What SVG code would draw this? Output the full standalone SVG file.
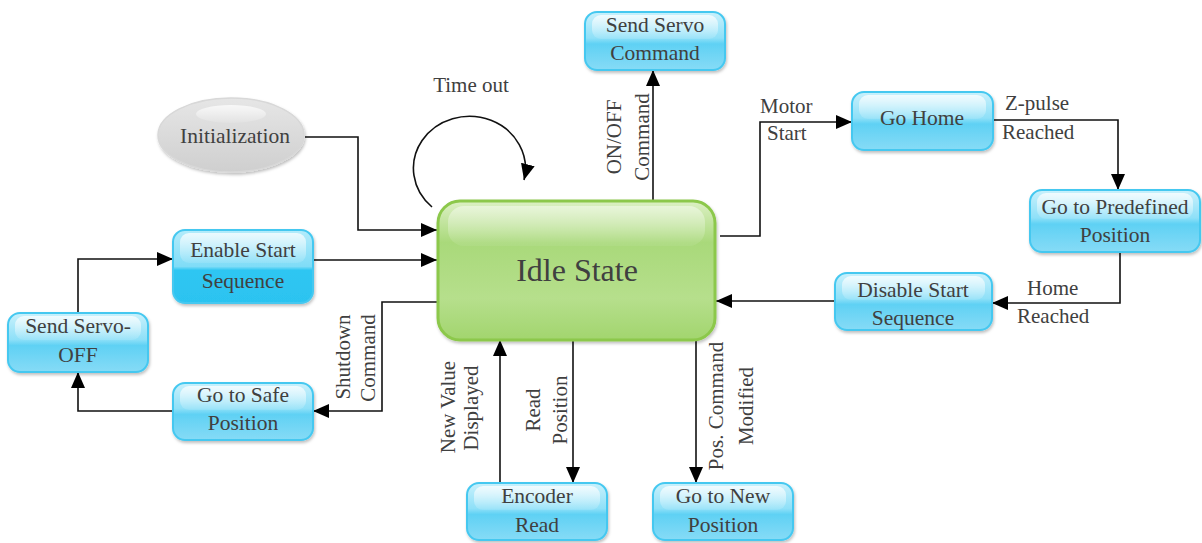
<svg xmlns="http://www.w3.org/2000/svg" width="1202" height="543" viewBox="0 0 1202 543">
<defs>
<linearGradient id="gBlue" x1="0" y1="0" x2="0" y2="1">
<stop offset="0" stop-color="#c9f1fc"/>
<stop offset="0.45" stop-color="#8ee0f8"/>
<stop offset="0.55" stop-color="#5fd1f4"/>
<stop offset="1" stop-color="#86dbf6"/>
</linearGradient>
<linearGradient id="gBlue2" x1="0" y1="0" x2="0" y2="1">
<stop offset="0" stop-color="#b4ecfb"/>
<stop offset="0.5" stop-color="#7fdcf7"/>
<stop offset="0.55" stop-color="#2fc6f2"/>
<stop offset="1" stop-color="#2cc3f0"/>
</linearGradient>
<linearGradient id="gGreen" x1="0" y1="0" x2="0" y2="1">
<stop offset="0" stop-color="#dcf0c4"/>
<stop offset="0.3" stop-color="#a9d97a"/>
<stop offset="0.7" stop-color="#b6df8c"/>
<stop offset="1" stop-color="#a2d56e"/>
</linearGradient>
<linearGradient id="gGray" x1="0" y1="0" x2="0" y2="1">
<stop offset="0" stop-color="#e6e6e6"/>
<stop offset="1" stop-color="#cfcfcf"/>
</linearGradient>
<linearGradient id="gHi" x1="0" y1="0" x2="0" y2="1">
<stop offset="0" stop-color="#ffffff" stop-opacity="0.75"/>
<stop offset="1" stop-color="#ffffff" stop-opacity="0.1"/>
</linearGradient>
<filter id="sh" x="-10%" y="-10%" width="130%" height="140%">
<feDropShadow dx="1" dy="2" stdDeviation="1.5" flood-color="#000" flood-opacity="0.25"/>
</filter>
<marker id="ah" markerWidth="16" markerHeight="14" refX="16" refY="7" orient="auto" markerUnits="userSpaceOnUse">
<path d="M0,0 L16,7 L0,14 z" fill="#000"/>
</marker>
</defs>
<style>
.blue{fill:url(#gBlue);stroke:#45c8f0;stroke-width:2;filter:url(#sh)}
.blue2{fill:url(#gBlue2);stroke:#45c8f0;stroke-width:2;filter:url(#sh)}
.hi{fill:url(#gHi);stroke:none}
.t{font-family:"Liberation Serif","Times New Roman",serif;font-size:21.5px;fill:#404040;text-anchor:middle}
.l{font-family:"Liberation Serif","Times New Roman",serif;font-size:21px;fill:#404040}
.c{fill:none;stroke:#111;stroke-width:1.6;marker-end:url(#ah)}
</style>
<rect width="1202" height="543" fill="#fff"/>

<g id="connectors">
<path class="c" d="M305,137 H358 V230 H437"/>
<path class="c" d="M313,260 H437"/>
<path class="c" d="M437,302 H382 V411 H313"/>
<path class="c" d="M173,411 H78 V372"/>
<path class="c" d="M78,313 V259 H173"/>
<path class="c" d="M653,200 V70"/>
<path class="c" d="M720,236 H760 V122 H852"/>
<path class="c" d="M993,120 H1118 V190"/>
<path class="c" d="M1120,252 V303 H992"/>
<path class="c" d="M835,301 H716"/>
<path class="c" d="M500,483 V340"/>
<path class="c" d="M573,340 V483"/>
<path class="c" d="M696,340 V483"/>
<path class="c" d="M432,207 A56,52 0 1 1 524,180"/>
</g>

<g id="labels">
<text class="l" x="471" y="92" text-anchor="middle">Time out</text>
<text class="l" x="621" y="137" text-anchor="middle" transform="rotate(-90 621 137)">ON/OFF</text>
<text class="l" x="649" y="137" text-anchor="middle" transform="rotate(-90 649 137)">Command</text>
<text class="l" x="760" y="113">Motor</text>
<text class="l" x="767" y="140">Start</text>
<text class="l" x="1005" y="110">Z-pulse</text>
<text class="l" x="1002" y="139">Reached</text>
<text class="l" x="1027" y="295">Home</text>
<text class="l" x="1017" y="323">Reached</text>
<text class="l" x="350" y="357" text-anchor="middle" transform="rotate(-90 350 357)">Shutdown</text>
<text class="l" x="375" y="358" text-anchor="middle" transform="rotate(-90 375 358)">Command</text>
<text class="l" x="455" y="407" text-anchor="middle" transform="rotate(-90 455 407)">New Value</text>
<text class="l" x="478" y="408" text-anchor="middle" transform="rotate(-90 478 408)">Displayed</text>
<text class="l" x="540" y="410" text-anchor="middle" transform="rotate(-90 540 410)">Read</text>
<text class="l" x="567" y="410" text-anchor="middle" transform="rotate(-90 567 410)">Position</text>
<text class="l" x="723" y="406" text-anchor="middle" transform="rotate(-90 723 406)">Pos. Command</text>
<text class="l" x="753" y="406" text-anchor="middle" transform="rotate(-90 753 406)">Modified</text>
</g>

<g id="idle">
<rect x="438" y="201" width="277" height="139" rx="22" fill="url(#gGreen)" stroke="#8cc84b" stroke-width="3" filter="url(#sh)"/>
<rect x="448" y="206" width="257" height="40" rx="16" class="hi" opacity="0.6"/>
<text x="577" y="281" font-family="Liberation Serif, Times New Roman, serif" font-size="32" fill="#404040" text-anchor="middle">Idle State</text>
</g>

<g id="initialization">
<ellipse cx="231" cy="135" rx="73" ry="37" fill="url(#gGray)" stroke="#d8d8d8" stroke-width="1.5" filter="url(#sh)"/>
<ellipse cx="231" cy="114" rx="35" ry="9" class="hi"/>
<text class="t" x="235" y="143">Initialization</text>
</g>

<g id="send-servo-command">
<rect class="blue" x="585" y="12" width="140" height="58" rx="12"/>
<rect class="hi" x="592" y="15" width="126" height="24" rx="9"/>
<text class="t" x="655" y="32">Send Servo</text>
<text class="t" x="655" y="60">Command</text>
</g>

<g id="go-home">
<rect class="blue" x="852" y="92" width="141" height="58" rx="12"/>
<rect class="hi" x="859" y="95" width="127" height="24" rx="9"/>
<text class="t" x="922" y="125">Go Home</text>
</g>

<g id="go-to-predefined-position">
<rect class="blue" x="1030" y="190" width="170" height="62" rx="12"/>
<rect class="hi" x="1037" y="193" width="156" height="26" rx="9"/>
<text class="t" x="1115" y="214">Go to Predefined</text>
<text class="t" x="1115" y="242">Position</text>
</g>

<g id="disable-start-sequence">
<rect class="blue" x="835" y="273" width="157" height="57" rx="12"/>
<rect class="hi" x="842" y="276" width="143" height="24" rx="9"/>
<text class="t" x="913" y="297">Disable Start</text>
<text class="t" x="913" y="325">Sequence</text>
</g>

<g id="enable-start-sequence">
<rect class="blue2" x="173" y="230" width="140" height="73" rx="12"/>
<rect class="hi" x="180" y="233" width="126" height="30" rx="9"/>
<text class="t" x="243" y="257">Enable Start</text>
<text class="t" x="243" y="288">Sequence</text>
</g>

<g id="send-servo-off">
<rect class="blue" x="8" y="313" width="140" height="59" rx="12"/>
<rect class="hi" x="15" y="316" width="126" height="24" rx="9"/>
<text class="t" x="78" y="333">Send Servo-</text>
<text class="t" x="78" y="362">OFF</text>
</g>

<g id="go-to-safe-position">
<rect class="blue" x="173" y="383" width="140" height="57" rx="12"/>
<rect class="hi" x="180" y="386" width="126" height="24" rx="9"/>
<text class="t" x="243" y="402">Go to Safe</text>
<text class="t" x="243" y="430">Position</text>
</g>

<g id="encoder-read">
<rect class="blue" x="467" y="483" width="140" height="57" rx="12"/>
<rect class="hi" x="474" y="486" width="126" height="24" rx="9"/>
<text class="t" x="537" y="503">Encoder</text>
<text class="t" x="537" y="532">Read</text>
</g>

<g id="go-to-new-position">
<rect class="blue" x="653" y="483" width="140" height="57" rx="12"/>
<rect class="hi" x="660" y="486" width="126" height="24" rx="9"/>
<text class="t" x="723" y="503">Go to New</text>
<text class="t" x="723" y="532">Position</text>
</g>
</svg>
